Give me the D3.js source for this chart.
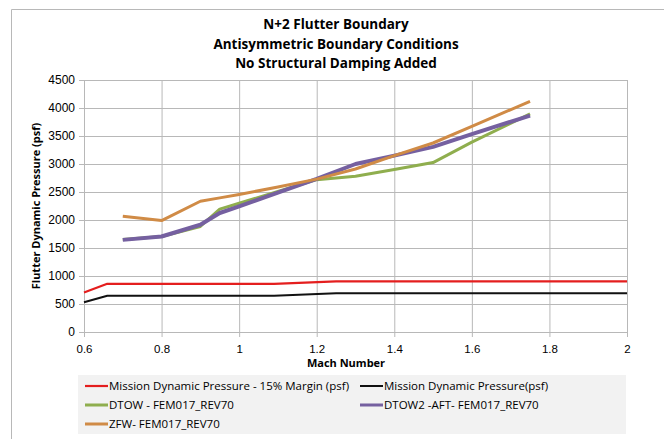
<!DOCTYPE html>
<html>
  <head>
    <meta charset="UTF-8">
    <title>N+2 Flutter Boundary</title>
    <style>
      body { margin: 0; background: #fff; }
      svg { display: block; font-family: "Open Sans", "Noto Sans", sans-serif; }
    </style>
  </head>
  <body>
    <svg></svg>
    <script src="https://d3js.org/d3.v7.min.js"></script>
    <script>

// mission pressure lines
var missionMach = [0.6, 0.66, 1.09, 1.25, 2.0];
var marginPressure = [705, 860, 860, 905, 905];
var missionPressure = [530, 648, 648, 690, 690];

// flutter boundary points
var flutterMach = [0.7, 0.8, 0.9, 0.95, 1.0, 1.1, 1.2, 1.3, 1.4, 1.5, 1.6, 1.75];
var dtow  = [1650, 1705, 1885, 2195, 2300, 2510, 2720, 2780, 2900, 3025, 3390, 3895];
var dtow2 = [1645, 1705, 1915, 2125, 2245, 2490, 2735, 3000, 3150, 3305, 3535, 3865];
var zfw   = [2065, 1990, 2335, 2395, 2455, 2590, 2730, 2910, 3150, 3375, 3670, 4120];

var xTicks = [0.6, 0.8, 1, 1.2, 1.4, 1.6, 1.8, 2];
var yTicks = [0, 500, 1000, 1500, 2000, 2500, 3000, 3500, 4000, 4500];

var titleLines = ["N+2 Flutter Boundary", "Antisymmetric Boundary Conditions", "No Structural Damping Added"];

var series = [
  {name: "Mission Dynamic Pressure - 15% Margin (psf)", x: missionMach, y: marginPressure, color: "#e41e1e", width: 2.2},
  {name: "Mission Dynamic Pressure(psf)", x: missionMach, y: missionPressure, color: "#111111", width: 2},
  {name: "DTOW - FEM017_REV70", x: flutterMach, y: dtow, color: "#8fae4e", width: 3},
  {name: "DTOW2 -AFT- FEM017_REV70", x: flutterMach, y: dtow2, color: "#7560a0", width: 4},
  {name: "ZFW- FEM017_REV70", x: flutterMach, y: zfw, color: "#d08b46", width: 3}
];

var W = 664, H = 439;
var margin = {top: 80, right: 37, bottom: 107, left: 84};

var svg = d3.select("svg").attr("width", W).attr("height", H);

// chart frame (only left/top visible in the crop)
svg.append("path")
  .attr("d", "M11.5," + H + "V9.5H" + W)
  .attr("fill", "none")
  .attr("stroke", "#b8b8b8");

var x = d3.scaleLinear().domain([0.6, 2]).range([margin.left, W - margin.right]);
var y = d3.scaleLinear().domain([0, 4500]).range([H - margin.bottom, margin.top]);

// gridlines
svg.append("g")
  .attr("transform", "translate(0," + (H - margin.bottom) + ")")
  .call(d3.axisBottom(x).tickValues(xTicks).tickFormat(d3.format("")).tickSizeOuter(0))
  .call(function(g) {
    g.select(".domain").remove();
    g.selectAll(".tick line").attr("stroke", "#b8b8b8").attr("y2", 5).attr("y1", -(H - margin.top - margin.bottom));
    g.selectAll(".tick text").attr("font-size", 11.5).attr("fill", "#000").attr("dy", "1.1em").attr("y", 8);
  });

svg.append("g")
  .attr("transform", "translate(" + margin.left + ",0)")
  .call(d3.axisLeft(y).tickValues(yTicks).tickFormat(d3.format("")).tickSizeOuter(0))
  .call(function(g) {
    g.select(".domain").remove();
    g.selectAll(".tick line").attr("stroke", "#b8b8b8").attr("x1", -5).attr("x2", W - margin.right - margin.left);
    g.selectAll(".tick text").attr("font-size", 12).attr("fill", "#000").attr("x", -9);
  });

// left axis line
svg.append("line")
  .attr("x1", margin.left + 0.5).attr("x2", margin.left + 0.5)
  .attr("y1", margin.top).attr("y2", H - margin.bottom + 5)
  .attr("stroke", "#b8b8b8");

var line = d3.line()
  .x(function(d) { return x(d[0]); })
  .y(function(d) { return y(d[1]); });

svg.append("g").selectAll("path")
  .data(series)
  .enter().append("path")
    .attr("fill", "none")
    .attr("stroke", function(d) { return d.color; })
    .attr("stroke-width", function(d) { return d.width; })
    .attr("stroke-linejoin", "round")
    .attr("d", function(d) { return line(d.x.map(function(v, i) { return [v, d.y[i]]; })); });

// titles
svg.append("g").selectAll("text")
  .data(titleLines)
  .enter().append("text")
    .attr("x", 336)
    .attr("y", function(d, i) { return 29 + i * 19.5; })
    .attr("text-anchor", "middle")
    .attr("font-size", 13.5)
    .attr("font-weight", "bold")
    .text(function(d) { return d; });

svg.append("text")
  .attr("transform", "translate(40," + ((margin.top + H - margin.bottom) / 2) + ") rotate(-90)")
  .attr("text-anchor", "middle")
  .attr("font-size", 11)
  .attr("font-weight", "bold")
  .text("Flutter Dynamic Pressure (psf)");

svg.append("text")
  .attr("x", 346)
  .attr("y", 367)
  .attr("text-anchor", "middle")
  .attr("font-size", 11)
  .attr("font-weight", "bold")
  .text("Mach Number");

// legend
svg.append("rect")
  .attr("x", 78).attr("y", 375)
  .attr("width", 548).attr("height", 59)
  .attr("fill", "#f2f2f2");

var legendPos = [[85, 386], [360, 386], [85, 405], [360, 405], [85, 424]];

var legend = svg.append("g").selectAll("g")
  .data(series)
  .enter().append("g")
    .attr("transform", function(d, i) { return "translate(" + legendPos[i][0] + "," + legendPos[i][1] + ")"; });

legend.append("line")
  .attr("x1", 0).attr("x2", 23)
  .attr("stroke", function(d) { return d.color; })
  .attr("stroke-width", function(d) { return Math.min(d.width, 3); });

legend.append("text")
  .attr("x", 24)
  .attr("dy", "0.35em")
  .attr("font-size", 11.5)
  .text(function(d) { return d.name; });

    </script>
  </body>
</html>
